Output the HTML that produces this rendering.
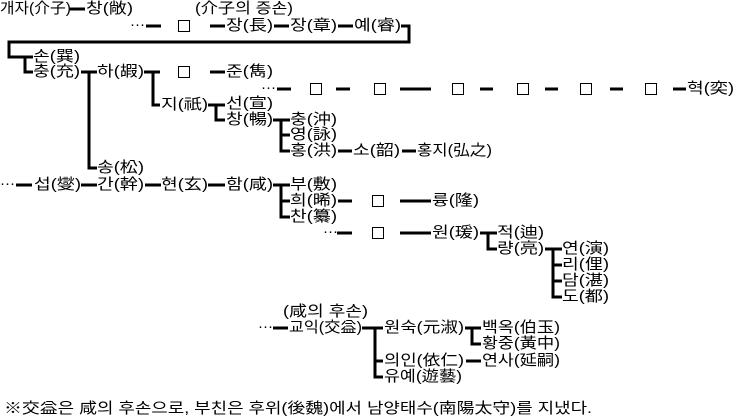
<!DOCTYPE html>
<html><head><meta charset="utf-8"><style>
html,body{margin:0;padding:0;background:#fff;}
svg{display:block;}
text{font-family:"Liberation Sans","Noto Sans CJK KR","NanumGothic",sans-serif;font-size:15px;fill:#000;dominant-baseline:middle;}
</style></head><body>
<svg width="736" height="419" viewBox="0 0 736 419" xmlns="http://www.w3.org/2000/svg">
<g stroke="#000" stroke-width="3" fill="none">
<line x1="70" y1="9" x2="85" y2="9"/>
<line x1="146" y1="26" x2="161" y2="26"/>
<line x1="210" y1="26" x2="225" y2="26"/>
<line x1="274" y1="26" x2="289" y2="26"/>
<line x1="338" y1="26" x2="353" y2="26"/>
<polyline points="401,26 409,26 409,42 9,42 9,57 33,57"/>
<polyline points="25,57 25,72 33,72"/>
<polyline points="81,72 97,72"/>
<polyline points="89,72 89,168 97,168"/>
<line x1="144" y1="72" x2="160" y2="72"/>
<polyline points="153,72 153,105 160,105"/>
<line x1="210" y1="72" x2="225" y2="72"/>
<line x1="277" y1="89" x2="291" y2="89"/>
<line x1="336" y1="89" x2="350" y2="89"/>
<line x1="400" y1="89" x2="431" y2="89"/>
<line x1="480" y1="89" x2="493" y2="89"/>
<line x1="545" y1="89" x2="558" y2="89"/>
<line x1="610" y1="89" x2="623" y2="89"/>
<line x1="673" y1="89" x2="686" y2="89"/>
<line x1="208" y1="105" x2="225" y2="105"/>
<polyline points="216,105 216,120 225,120"/>
<line x1="273" y1="120" x2="290" y2="120"/>
<polyline points="281,120 281,151 290,151"/>
<line x1="281" y1="135" x2="290" y2="135"/>
<line x1="338" y1="151" x2="352" y2="151"/>
<line x1="402" y1="151" x2="416" y2="151"/>
<line x1="16" y1="185" x2="32" y2="185"/>
<line x1="81" y1="185" x2="97" y2="185"/>
<line x1="145" y1="185" x2="161" y2="185"/>
<line x1="208" y1="185" x2="225" y2="185"/>
<line x1="273" y1="185" x2="290" y2="185"/>
<polyline points="281,185 281,217 290,217"/>
<line x1="281" y1="201" x2="290" y2="201"/>
<line x1="338" y1="201" x2="352" y2="201"/>
<line x1="400" y1="201" x2="431" y2="201"/>
<line x1="337" y1="233" x2="352" y2="233"/>
<line x1="400" y1="233" x2="431" y2="233"/>
<line x1="480" y1="233" x2="497" y2="233"/>
<polyline points="488,233 488,249 497,249"/>
<line x1="545" y1="249" x2="562" y2="249"/>
<polyline points="553,249 553,297 562,297"/>
<line x1="553" y1="265" x2="562" y2="265"/>
<line x1="553" y1="281" x2="562" y2="281"/>
<line x1="273" y1="328" x2="288" y2="328"/>
<line x1="362" y1="328" x2="383" y2="328"/>
<polyline points="375,328 375,377 383,377"/>
<line x1="375" y1="361" x2="383" y2="361"/>
<line x1="465" y1="328" x2="481" y2="328"/>
<polyline points="472,328 472,344 481,344"/>
<line x1="466" y1="361" x2="481" y2="361"/>
</g>
<g stroke="#000" stroke-width="1" fill="none">
<rect x="178.5" y="20.5" width="11" height="11"/>
<rect x="178.5" y="66.5" width="11" height="11"/>
<rect x="310.5" y="83.5" width="11" height="11"/>
<rect x="374.5" y="83.5" width="11" height="11"/>
<rect x="452.5" y="83.5" width="11" height="11"/>
<rect x="517.5" y="83.5" width="11" height="11"/>
<rect x="580.5" y="83.5" width="11" height="11"/>
<rect x="645.5" y="83.5" width="11" height="11"/>
<rect x="372.5" y="195.5" width="11" height="11"/>
<rect x="372.5" y="227.5" width="11" height="11"/>
</g>
<g lengthAdjust="spacingAndGlyphs">
<text x="0" y="9" textLength="71" lengthAdjust="spacingAndGlyphs">개자(介子)</text>
<text x="86" y="9" textLength="47" lengthAdjust="spacingAndGlyphs">창(敞)</text>
<text x="195" y="9" textLength="98" lengthAdjust="spacingAndGlyphs">(介子의 증손)</text>
<text x="130" y="25">···</text>
<text x="226" y="26" textLength="47" lengthAdjust="spacingAndGlyphs">장(長)</text>
<text x="290" y="26" textLength="47" lengthAdjust="spacingAndGlyphs">장(章)</text>
<text x="354" y="26" textLength="47" lengthAdjust="spacingAndGlyphs">예(睿)</text>
<text x="33" y="57" textLength="47" lengthAdjust="spacingAndGlyphs">손(巽)</text>
<text x="33" y="72" textLength="47" lengthAdjust="spacingAndGlyphs">충(充)</text>
<text x="97" y="72" textLength="47" lengthAdjust="spacingAndGlyphs">하(嘏)</text>
<text x="226" y="72" textLength="47" lengthAdjust="spacingAndGlyphs">준(雋)</text>
<text x="261" y="88">···</text>
<text x="687" y="89" textLength="47" lengthAdjust="spacingAndGlyphs">혁(奕)</text>
<text x="161" y="105" textLength="47" lengthAdjust="spacingAndGlyphs">지(祇)</text>
<text x="226" y="104" textLength="47" lengthAdjust="spacingAndGlyphs">선(宣)</text>
<text x="226" y="120" textLength="47" lengthAdjust="spacingAndGlyphs">창(暢)</text>
<text x="290" y="120" textLength="47" lengthAdjust="spacingAndGlyphs">충(沖)</text>
<text x="290" y="135" textLength="47" lengthAdjust="spacingAndGlyphs">영(詠)</text>
<text x="290" y="151" textLength="47" lengthAdjust="spacingAndGlyphs">홍(洪)</text>
<text x="353" y="151" textLength="47" lengthAdjust="spacingAndGlyphs">소(韶)</text>
<text x="417" y="151" textLength="75" lengthAdjust="spacingAndGlyphs">홍지(弘之)</text>
<text x="97" y="168" textLength="47" lengthAdjust="spacingAndGlyphs">송(松)</text>
<text x="0" y="184">···</text>
<text x="34" y="185" textLength="47" lengthAdjust="spacingAndGlyphs">섭(燮)</text>
<text x="97" y="185" textLength="47" lengthAdjust="spacingAndGlyphs">간(幹)</text>
<text x="161" y="185" textLength="47" lengthAdjust="spacingAndGlyphs">현(玄)</text>
<text x="226" y="185" textLength="47" lengthAdjust="spacingAndGlyphs">함(咸)</text>
<text x="290" y="185" textLength="47" lengthAdjust="spacingAndGlyphs">부(敷)</text>
<text x="290" y="201" textLength="47" lengthAdjust="spacingAndGlyphs">희(晞)</text>
<text x="290" y="217" textLength="47" lengthAdjust="spacingAndGlyphs">찬(纂)</text>
<text x="432" y="201" textLength="47" lengthAdjust="spacingAndGlyphs">륭(隆)</text>
<text x="323" y="232">···</text>
<text x="432" y="233" textLength="47" lengthAdjust="spacingAndGlyphs">원(瑗)</text>
<text x="497" y="233" textLength="47" lengthAdjust="spacingAndGlyphs">적(迪)</text>
<text x="497" y="249" textLength="47" lengthAdjust="spacingAndGlyphs">량(亮)</text>
<text x="562" y="249" textLength="47" lengthAdjust="spacingAndGlyphs">연(演)</text>
<text x="562" y="265" textLength="47" lengthAdjust="spacingAndGlyphs">리(俚)</text>
<text x="562" y="281" textLength="47" lengthAdjust="spacingAndGlyphs">담(湛)</text>
<text x="562" y="297" textLength="47" lengthAdjust="spacingAndGlyphs">도(都)</text>
<text x="283" y="312" textLength="85" lengthAdjust="spacingAndGlyphs">(咸의 후손)</text>
<text x="258" y="327">···</text>
<text x="289" y="328" textLength="73" lengthAdjust="spacingAndGlyphs">교익(交益)</text>
<text x="384" y="328" textLength="80" lengthAdjust="spacingAndGlyphs">원숙(元淑)</text>
<text x="482" y="328" textLength="78" lengthAdjust="spacingAndGlyphs">백옥(伯玉)</text>
<text x="482" y="344" textLength="78" lengthAdjust="spacingAndGlyphs">황중(黃中)</text>
<text x="384" y="361" textLength="80" lengthAdjust="spacingAndGlyphs">의인(依仁)</text>
<text x="482" y="361" textLength="78" lengthAdjust="spacingAndGlyphs">연사(延嗣)</text>
<text x="384" y="377" textLength="78" lengthAdjust="spacingAndGlyphs">유예(遊藝)</text>
<text x="4" y="409" textLength="588" lengthAdjust="spacingAndGlyphs">※交益은 咸의 후손으로, 부친은 후위(後魏)에서 남양태수(南陽太守)를 지냈다.</text>
</g>
</svg>
</body></html>
